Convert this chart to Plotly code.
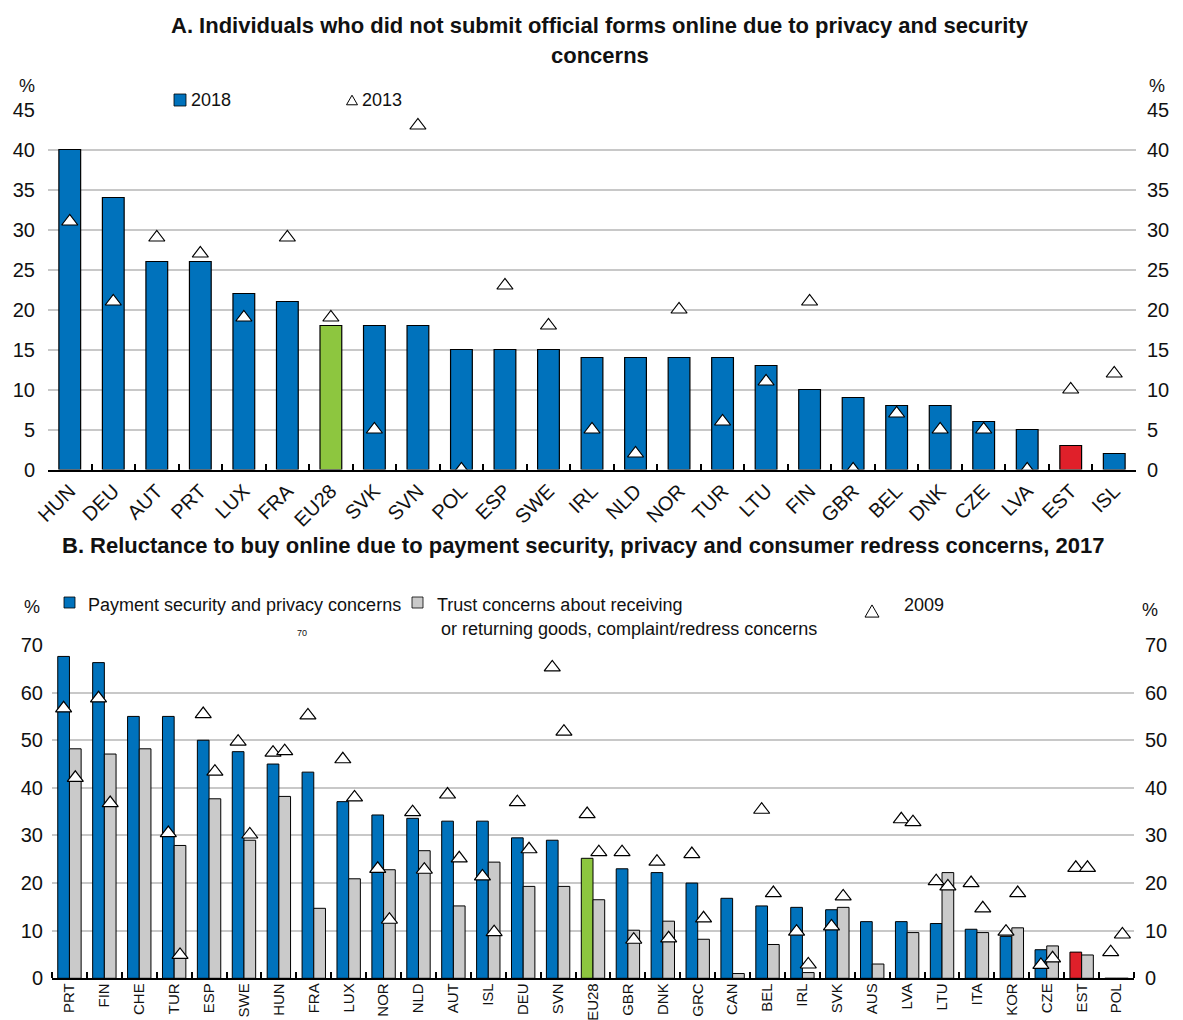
import plotly.graph_objects as go

W, H = 1183, 1020

FONT = "Liberation Sans, Arial, sans-serif"
BLUE = "#0072BC"
GREEN = "#8DC63F"
RED = "#E0202A"
GREY = "#CACACA"
GRID = "#C8C8C8"

# ---- Panel A data ----
a_countries = ["HUN", "DEU", "AUT", "PRT", "LUX", "FRA", "EU28", "SVK", "SVN", "POL",
               "ESP", "SWE", "IRL", "NLD", "NOR", "TUR", "LTU", "FIN", "GBR", "BEL",
               "DNK", "CZE", "LVA", "EST", "ISL"]
a_2018 = [40, 34, 26, 26, 22, 21, 18, 18, 18, 15, 15, 15, 14, 14, 14, 14, 13, 10, 9, 8,
          8, 6, 5, 3, 2]
a_2013 = [31, 21, 29, 27, 19, 29, 19, 5, 43, 0, 23, 18, 5, 2, 20, 6, 11, 21, 0, 7,
          5, 5, 0, 10, 12]
a_ticks = [0, 5, 10, 15, 20, 25, 30, 35, 40, 45]

# ---- Panel B data ----
b_countries = ["PRT", "FIN", "CHE", "TUR", "ESP", "SWE", "HUN", "FRA", "LUX", "NOR",
               "NLD", "AUT", "ISL", "DEU", "SVN", "EU28", "GBR", "DNK", "GRC", "CAN",
               "BEL", "IRL", "SVK", "AUS", "LVA", "LTU", "ITA", "KOR", "CZE", "EST", "POL"]
b_payment = [67.6, 66.3, 55.0, 55.0, 50.0, 47.6, 45.0, 43.3, 37.1, 34.3,
             33.6, 33.0, 33.0, 29.5, 29.0, 25.2, 23.0, 22.2, 20.0, 16.8,
             15.2, 14.9, 14.4, 11.9, 11.9, 11.5, 10.3, 8.8, 6.0, 5.5, 0]
b_trust = [48.2, 47.1, 48.2, 27.9, 37.7, 29.0, 38.2, 14.7, 20.9, 22.8,
           26.8, 15.2, 24.4, 19.3, 19.3, 16.5, 10.1, 12.0, 8.2, 1.0,
           7.1, 1.2, 14.9, 3.0, 9.6, 22.2, 9.6, 10.6, 6.8, 4.9, 0]
b_payment_2009 = [56.7, 58.8, None, 30.5, 55.5, 49.7, 47.4, 55.2, 46.0, 23.0,
                  34.9, 38.6, 21.4, 37.0, 65.3, 34.5, 26.5, 24.5, 26.1, None,
                  35.4, 9.8, 10.9, None, 33.4, 20.4, 20.0, 9.8, 2.8, 23.2, 5.5]
b_trust_2009 = [42.1, 36.8, None, 4.9, 43.4, 30.2, 47.7, None, 38.0, 12.3,
                22.8, 25.2, 9.7, 27.1, 51.8, 26.5, 8.1, 8.4, 12.6, None,
                17.9, 2.9, 17.2, None, 32.8, 19.3, 14.7, 17.9, 4.2, 23.2, 9.2]
b_ticks = [0, 10, 20, 30, 40, 50, 60, 70]


def highlight(countries, base):
    return [GREEN if c == "EU28" else RED if c == "EST" else base for c in countries]


def px_x(p):
    return p / W


def px_y(p):
    return 1 - p / H


# Plot-area geometry (paper fractions)
A_X = [px_x(48), px_x(1136)]
A_Y = [px_y(469.5), px_y(109.5)]
B_X = [px_x(52), px_x(1134)]
B_Y = [px_y(978.3), px_y(645)]

BAR_W = 0.335  # width of each bar in panel B (category units)
b_idx = list(range(len(b_countries)))

TRI = dict(symbol="triangle-up", size=14, color="white",
           line=dict(color="black", width=1.2))

fig = go.Figure()

# Panel A bars and 2013 markers
fig.add_trace(go.Bar(
    x=a_countries, y=a_2018, width=0.5,
    marker=dict(color=highlight(a_countries, BLUE), line=dict(color="black", width=1.2)),
    xaxis="x", yaxis="y", showlegend=False))
fig.add_trace(go.Scatter(
    x=a_countries, y=a_2013, mode="markers", marker=TRI,
    xaxis="x", yaxis="y3", showlegend=False))

# Panel B bars
fig.add_trace(go.Bar(
    x=b_idx, y=b_payment, width=BAR_W, offset=-BAR_W,
    marker=dict(color=highlight(b_countries, BLUE), line=dict(color="black", width=1)),
    xaxis="x2", yaxis="y2", showlegend=False))
fig.add_trace(go.Bar(
    x=b_idx, y=b_trust, width=BAR_W, offset=0,
    marker=dict(color=GREY, line=dict(color="black", width=1)),
    xaxis="x2", yaxis="y2", showlegend=False))
# Panel B 2009 markers, one above each bar of the pair
fig.add_trace(go.Scatter(
    x=[i - BAR_W / 2 for i in b_idx], y=b_payment_2009, mode="markers", marker=TRI,
    xaxis="x2", yaxis="y4", showlegend=False))
fig.add_trace(go.Scatter(
    x=[i + BAR_W / 2 for i in b_idx], y=b_trust_2009, mode="markers", marker=TRI,
    xaxis="x2", yaxis="y4", showlegend=False))

tickfont = dict(family=FONT, size=20, color="#111")
yaxis_common = dict(showline=False, zeroline=False, ticks="", tickfont=tickfont,
                    fixedrange=True, automargin=False)

fig.update_layout(
    width=W, height=H,
    margin=dict(l=0, r=0, t=0, b=0, autoexpand=False),
    paper_bgcolor="white", plot_bgcolor="white",
    font=dict(family=FONT, size=20, color="#111"),
    barmode="overlay",
    xaxis=dict(domain=A_X, anchor="y", type="category",
               range=[-0.5, len(a_countries) - 0.5], automargin=False,
               tickson="boundaries", ticks="inside", ticklen=6, tickwidth=2,
               tickcolor="black", showline=True, linecolor="black", linewidth=2,
               tickangle=-45, tickfont=tickfont, showgrid=False),
    yaxis=dict(domain=A_Y, anchor="x", range=[0, 45], tickvals=a_ticks,
               showgrid=True, gridcolor=GRID, gridwidth=2,
               ticklabelstandoff=12, **yaxis_common),
    yaxis3=dict(overlaying="y", side="right", anchor="x", range=[0, 45],
                tickvals=a_ticks, showgrid=False, ticklabelstandoff=10,
                **yaxis_common),
    xaxis2=dict(domain=B_X, anchor="y2", range=[-0.5, len(b_countries) - 0.5],
                automargin=False,
                tickvals=b_idx, ticktext=b_countries, ticks="",
                tickangle=-90, tickfont=dict(family=FONT, size=15, color="#111"),
                ticklabelstandoff=-3,
                showgrid=False, zeroline=False,
                showline=True, linecolor="black", linewidth=2,
                minor=dict(tickmode="array",
                           tickvals=[i - 0.5 for i in range(len(b_countries) + 1)],
                           ticks="inside", ticklen=6, tickwidth=2, tickcolor="black",
                           showgrid=False)),
    yaxis2=dict(domain=B_Y, anchor="x2", range=[0, 70], tickvals=b_ticks,
                showgrid=True, gridcolor=GRID, gridwidth=2,
                ticklabelstandoff=8, **yaxis_common),
    yaxis4=dict(overlaying="y2", side="right", anchor="x2", range=[0, 70],
                tickvals=b_ticks, showgrid=False, ticklabelstandoff=10,
                **yaxis_common),
)

annotations = []
shapes = []


def text(x, y, s, size=18, bold=False, xanchor="left", yanchor="middle", color="#111"):
    annotations.append(dict(
        x=px_x(x), y=px_y(y), xref="paper", yref="paper", text=s, showarrow=False,
        xanchor=xanchor, yanchor=yanchor,
        font=dict(family=FONT, size=size, color=color,
                  weight="bold" if bold else "normal")))


def square(x0, y0, x1, y1, color):
    shapes.append(dict(type="rect", xref="paper", yref="paper",
                       x0=px_x(x0), x1=px_x(x1), y0=px_y(y1), y1=px_y(y0),
                       fillcolor=color, line=dict(color="black", width=0.8)))


def triangle(cx, cy, size):
    h = size * 0.87
    path = "M {} {} L {} {} L {} {} Z".format(
        px_x(cx - size / 2), px_y(cy + h / 2),
        px_x(cx + size / 2), px_y(cy + h / 2),
        px_x(cx), px_y(cy - h / 2))
    shapes.append(dict(type="path", xref="paper", yref="paper", path=path,
                       fillcolor="white", line=dict(color="black", width=1)))


# Panel A titles and legend
text(600, 25, "A. Individuals who did not submit official forms online due to privacy and security",
     size=22, bold=True, xanchor="center")
text(600, 55, "concerns", size=22, bold=True, xanchor="center")
text(27, 86, "%", xanchor="center")
text(1157, 86, "%", xanchor="center")
square(174, 94, 186, 106, BLUE)
text(189, 100, "2018")
triangle(352, 100, 11)
text(360, 100, "2013")

# Panel B titles and legend
text(583, 545, "B. Reluctance to buy online due to payment security, privacy and consumer redress concerns, 2017",
     size=22, bold=True, xanchor="center")
text(32, 607, "%", xanchor="center")
text(1150, 610, "%", xanchor="center")
square(64, 597, 75, 608, BLUE)
square(412, 597, 423, 608, GREY)
text(86, 605, "Payment security and privacy concerns")
text(435, 605, "Trust concerns about receiving")
text(439, 629, "or returning goods, complaint/redress concerns")
triangle(872, 611, 14)
text(902, 605, "2009")
text(302, 633, "70", size=9, xanchor="center")

fig.update_layout(annotations=annotations, shapes=shapes)

fig.write_html("out.html")
